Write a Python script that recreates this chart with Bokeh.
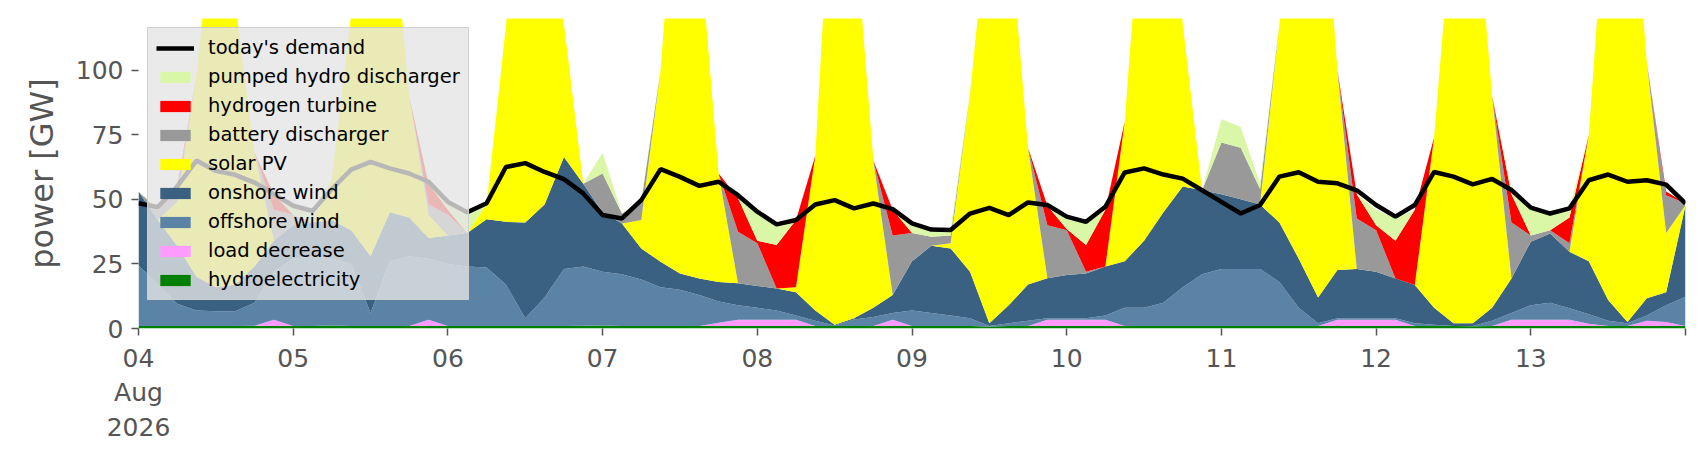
from bokeh.plotting import figure
from bokeh.models import ColumnDataSource, Range1d, FixedTicker, Legend, LegendItem
from bokeh.embed import file_html
from bokeh.resources import INLINE

# time axis: hours since 2026-08-04 00:00, 3-hourly
hours = list(range(0, 241, 3))
day_ticks = list(range(0, 241, 24))
day_labels = ["04\nAug\n2026", "05", "06", "07", "08", "09", "10", "11", "12", "13", ""]
y_ticks = [0, 25, 50, 75, 100]

# generation by carrier [GW]
hydro = [1.0, 1.0, 1.0, 1.0, 1.0, 1.0, 1.1, 1.0,
         1.0, 1.0, 1.2, 1.0, 1.0, 1.0, 1.0, 1.0,
         1.0, 1.0, 1.0, 1.0, 1.0, 1.0, 1.0, 1.1,
         1.2, 1.0, 1.0, 1.0, 1.0, 1.0, 1.0, 1.0,
         1.0, 1.0, 1.0, 1.0, 1.0, 1.0, 1.0, 1.0,
         1.0, 1.0, 1.0, 1.0, 0.8, 1.0, 1.0, 1.0,
         1.0, 1.0, 1.0, 1.0, 1.0, 1.0, 1.0, 1.0,
         1.0, 1.0, 1.0, 1.0, 1.0, 1.0, 1.0, 1.0,
         1.0, 1.0, 1.0, 1.0, 1.0, 0.9, 1.0, 1.0,
         1.0, 1.0, 1.0, 1.0, 1.0, 1.0, 1.0, 1.0,
         1.0]
load_decrease = [0, 0, 0, 0, 0, 0, 0, 2.4,
                 0, 0, 0, 0, 0, 0, 0, 2.4,
                 0, 0, 0, 0, 0, 0, 0, 0,
                 0, 0, 0, 0, 0, 0, 1.2, 2.4,
                 2.4, 2.4, 2.4, 0, 0, 0, 0, 2.4,
                 0, 0, 0, 0, 0, 0, 0, 2.4,
                 2.4, 2.4, 2.4, 0, 0, 0, 0, 0,
                 0, 0, 0, 0, 0, 0, 2.4, 2.4,
                 2.4, 2.4, 0, 0, 0, 0, 0, 2.4,
                 2.4, 2.4, 2.4, 0.8, 0, 0, 2.0, 1.5,
                 0]
offshore = [23.5, 16, 8.6, 6, 5.7, 5.7, 8.9, 18.6,
            26, 27, 25.8, 24, 5, 25, 27, 23.6,
            24, 23, 22.6, 16, 3, 11, 22, 22.9,
            20.8, 20, 18, 15, 14, 12, 8.3, 5.6,
            4.6, 3.6, 1.6, 2, 0.2, 2.5, 3.5, 2.6,
            6, 5, 4, 3, 0.2, 1, 2, 0.6,
            0.6, 0.6, 1.6, 7, 7, 9, 15, 20,
            22, 22, 22, 17, 7, 1, 0.6, 0.6,
            0.6, 0.6, 1, 0.5, 0, 0.1, 2, 2.6,
            5.6, 6.6, 4.4, 3.7, 2, 1, 2, 6.5,
            11.3]
onshore = [28.5, 25, 22.4, 13, 9.3, 10.3, 14, 12,
           13, 13, 15, 13, 22, 19, 15, 8,
           11, 13, 18.7, 24.3, 37, 36, 43.4, 32,
           23, 19.6, 12, 9.8, 6.3, 6.4, 7.5, 8.5,
           8.5, 8.5, 9, 4, 0.3, 0.5, 3.5, 7,
           19, 26, 26, 18, 1, 7, 14, 15.5,
           16.7, 17.3, 19, 18, 26, 35, 39, 32.5,
           29, 27, 25, 23, 19, 10, 18.6, 19,
           18, 15.4, 14.8, 6.5, 1, 1, 5, 13.4,
           24.6, 26.8, 21.9, 20.5, 8, 0.5, 6.7, 5,
           35.4]
solar = [0, 0, 17, 78, 155, 109, 44, 0,
         0, 0, 16, 84, 172, 127, 47, 9,
         0, 0, 5.7, 75.7, 159, 152, 51.6, 0,
         0, 0, 11, 74.2, 178.7, 130.6, 42, 0,
         0, 0, 2, 60, 198.5, 156, 57, 0,
         0, 0, 2, 69, 163, 151, 53, 0,
         0, 0, 0, 54, 146, 155, 63, 0,
         0, 0, 0, 77, 173, 188, 77.4, 0,
         0, 0, 0, 66, 163, 178, 82, 0,
         0, 0, 0, 49, 169, 197.5, 91.3, 23,
         0]
battery = [0, 4, 4, 0, 0, 0, 0, 12,
           4, 0, 0, 0, 0, 0, 0, 4,
           8, 0, 0, 0, 0, 0, 0, 0,
           15, 3.9, 7, 0, 0, 0, 0, 20,
           16.5, 0, 0, 0, 0, 0, 0, 23,
           11, 3.5, 3, 0, 0, 0, 0, 20.5,
           17.3, 0.7, 0, 0, 0, 0, 0, 0,
           20, 20, 6, 0, 0, 0, 0, 19.6,
           16, 0, 0, 0, 0, 0, 0, 21.6,
           2.4, 1.2, 3.3, 0, 0, 0, 0, 14.6,
           0.7]
hydrogen = [0, 0, 2, 0, 0, 0, 0, 6,
            0, 0, 0, 0, 0, 0, 0, 8,
            2, 0, 0, 0, 0, 0, 0, 0,
            0, 0, 0, 0, 0, 0, 0, 13,
            1, 16.8, 26, 0, 0, 0, 0, 10,
            0, 0, 0, 0, 0, 0, 0, 7.5,
            0.5, 10.3, 22, 0, 0, 0, 0, 0,
            0, 0, 0, 0, 0, 0, 0, 9.4,
            2, 14.6, 29.2, 0, 0, 0, 0, 11,
            0, 0, 10, 0, 0, 0, 0, 1.4,
            0]
pumped_hydro = [0, 1, 0, 0, 0, 0, 0, 0,
                3.5, 4.5, 0, 0, 0, 0, 0, 1,
                3, 8, 0.5, 0, 0, 0, 0, 0,
                8, 0, 0.7, 0, 0, 0, 0, 0,
                11, 8.7, 0, 0, 0, 0, 0, 0,
                4, 2.8, 2.5, 0, 0, 0, 0, 0,
                4.5, 8.4, 0, 0, 0, 0, 0, 0,
                9, 8, 2, 0, 0, 0, 0, 0,
                6, 8.6, 0, 0, 0, 0, 0, 1.6,
                10.8, 7, 3.5, 0, 0, 0, 0, 0,
                0]
demand = [48.5, 47, 55, 65, 61, 59.5, 56.5, 52,
          47.5, 45.5, 54, 61.5, 64.5, 62, 60, 56.8,
          49, 45, 48.5, 62.5, 64, 60.6, 57.8, 52.3,
          43.9, 42.6, 49.7, 61.7, 58.7, 55.2, 56.8, 51.6,
          45.2, 40.3, 42, 48, 49.7, 46.5, 48.4, 46.2,
          40.7, 38.3, 38.1, 44.5, 46.7, 43.9, 48.8, 47.8,
          43.3, 41.3, 47.1, 60.4, 62, 59.6, 58, 53.5,
          49, 44.5, 47.8, 58.8, 60.5, 56.8, 56.2, 53.5,
          47.8, 43.3, 47.8, 60.6, 58.8, 55.8, 57.9, 53.6,
          46.8, 44.5, 46.5, 57.4, 59.6, 56.8, 57.4, 55.7,
          48.4]

carriers = ["hydroelectricity", "load decrease", "offshore wind", "onshore wind",
            "solar PV", "battery discharger", "hydrogen turbine", "pumped hydro discharger"]
colors = ["#008000", "#ff9bff", "#5b83a6", "#3b6182",
          "#ffff00", "#999999", "#ff0000", "#daf7a7"]
keys = ["hydro", "load", "offshore", "onshore", "solar", "battery", "hydrogen", "phs"]

src = ColumnDataSource(dict(h=hours, hydro=hydro, load=load_decrease, offshore=offshore,
                            onshore=onshore, solar=solar, battery=battery,
                            hydrogen=hydrogen, phs=pumped_hydro, demand=demand))

p = figure(frame_width=1547, frame_height=310,
           x_range=Range1d(0, 240), y_range=Range1d(0, 120),
           output_backend="svg", toolbar_location=None,
           min_border_left=138, min_border_right=13,
           min_border_top=18, min_border_bottom=110,
           background_fill_color="white", border_fill_color="white")

areas = p.varea_stack(stackers=keys, x="h", color=colors, source=src)
line = p.line("h", "demand", source=src, color="black", line_width=4.5)

items = [LegendItem(label="today's demand", renderers=[line])]
for i in range(len(keys) - 1, -1, -1):
    items.append(LegendItem(label=carriers[i], renderers=[areas[i]]))
legend = Legend(items=items, location="top_left",
                background_fill_color="#e5e5e5", background_fill_alpha=0.8,
                border_line_color="#cccccc", border_line_alpha=0.9,
                label_text_font="DejaVu Sans", label_text_font_size="19.5px",
                label_text_color="black", glyph_width=38, glyph_height=14,
                label_height=22, label_standoff=14, spacing=6, padding=8, margin=9)
p.add_layout(legend)

p.xaxis.ticker = FixedTicker(ticks=day_ticks)
p.xaxis.major_label_overrides = {t: l for t, l in zip(day_ticks, day_labels)}
p.yaxis.ticker = FixedTicker(ticks=y_ticks)
for ax in (p.xaxis[0], p.yaxis[0]):
    ax.axis_line_color = None
    ax.minor_tick_line_color = None
    ax.major_tick_line_color = "#555555"
    ax.major_tick_line_width = 1.5
    ax.major_tick_in = 0
    ax.major_tick_out = 7
    ax.major_label_text_font = "DejaVu Sans"
    ax.major_label_text_font_size = "25px"
    ax.major_label_text_color = "#555555"
    ax.major_label_standoff = 8
p.yaxis.axis_label = "power [GW]"
p.yaxis.axis_label_text_font = "DejaVu Sans"
p.yaxis.axis_label_text_font_size = "32px"
p.yaxis.axis_label_text_font_style = "normal"
p.yaxis.axis_label_text_color = "#555555"
p.yaxis.axis_label_standoff = 12
p.grid.visible = False
p.outline_line_color = None

open("out.html", "w").write(file_html(p, INLINE))
